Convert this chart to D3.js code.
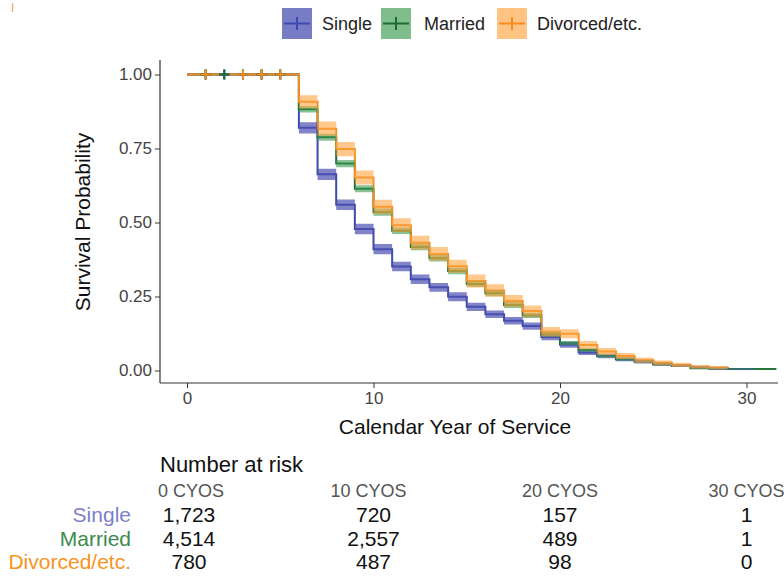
<!DOCTYPE html>
<html><head><meta charset="utf-8">
<script src="https://cdn.jsdelivr.net/npm/d3@7"></script>
<style>body{margin:0;background:#fff}svg{display:block;font-family:"Liberation Sans",Arial,sans-serif}</style>
</head><body><svg id="c" width="784" height="576"></svg>
<script>
const groups = ["Single", "Married", "Divorced/etc."];
const times = [0,6,7,8,9,10,11,12,13,14,15,16,17,18,19,20,21,22,23,24,25,26,27,28,29];
const survSingle   = [1,0.820,0.663,0.560,0.478,0.410,0.351,0.308,0.281,0.249,0.215,0.190,0.168,0.150,0.113,0.087,0.061,0.049,0.038,0.030,0.021,0.016,0.010,0.007,0.005];
const survMarried  = [1,0.883,0.788,0.699,0.614,0.535,0.472,0.417,0.379,0.336,0.292,0.261,0.221,0.186,0.122,0.093,0.069,0.049,0.038,0.030,0.021,0.016,0.008,0.007,0.005];
const survDivorced = [1,0.908,0.817,0.748,0.652,0.553,0.491,0.432,0.394,0.352,0.302,0.270,0.235,0.201,0.131,0.124,0.086,0.064,0.049,0.035,0.026,0.019,0.013,0.010];
const ciSingle   = [0,.019,.019,.018,.018,.017,.016,.016,.015,.015,.014,.013,.013,.012,.011,.010,.009,.008,.007,.006,.005,.004,.004,.003,.003];
const ciMarried  = [0,.011,.012,.012,.012,.012,.011,.011,.011,.011,.010,.010,.010,.009,.008,.007,.006,.005,.005,.004,.004,.003,.003,.002,.002];
const ciDivorced = [0,.022,.024,.024,.024,.024,.023,.023,.023,.022,.022,.021,.020,.019,.016,.015,.014,.012,.010,.009,.008,.007,.006,.005];
const endTimes = [30.4, 31.6, 29];
const censorTimes = [[1,2,3,4,5],[1,2,3,4,5],[1,3,4,5]];
const riskTimes = [0,10,20,30];
const riskLabels = ["0 CYOS","10 CYOS","20 CYOS","30 CYOS"];
const riskSingle = ["1,723","720","157","1"];
const riskMarried = ["4,514","2,557","489","1"];
const riskDivorced = ["780","487","98","0"];
const yTicks = [0,0.25,0.5,0.75,1];
const xTicks = [0,10,20,30];

const lineColors = ["#3B4AAE","#1C6B34","#F78D1E"];
const bandColors = ["#4B50B0","#3A9A50","#FFA340"];
const bandOpac = [0.7,0.6,0.6];
const labelColors = ["#7D7FC9","#3A8A4E","#F7941D"];

const svg = d3.select("#c");
const x = d3.scaleLinear().domain([0,30]).range([187,746.5]);
const y = d3.scaleLinear().domain([0,1]).range([370.5,74.5]);

const survs=[survSingle,survMarried,survDivorced];
const cis=[ciSingle,ciMarried,ciDivorced];
const series = groups.map((g,i)=>{
  const pts = survs[i].map((s,j)=>({t:times[j],s:s,h:cis[i][j]}));
  const last = pts[pts.length-1];
  pts.push({t:endTimes[i],s:last.s,h:last.h});
  return pts;
});

const plotL=160, plotR=778, plotT=60, plotB=383;
svg.append("line").attr("x1",plotL).attr("x2",plotL).attr("y1",plotT).attr("y2",plotB).attr("stroke","#333").attr("stroke-width",1.2);
svg.append("line").attr("x1",plotL).attr("x2",plotR).attr("y1",plotB).attr("y2",plotB).attr("stroke","#333").attr("stroke-width",1.2);

const yAxis = d3.axisLeft(y).tickValues(yTicks).tickFormat(d3.format(".2f")).tickSize(5).tickPadding(3);
const ga = svg.append("g").attr("transform",`translate(${plotL},0)`).call(yAxis);
ga.select(".domain").remove();
ga.selectAll("line").attr("stroke","#333");
ga.selectAll("text").attr("font-size",17).attr("fill","#444").attr("font-family","Liberation Sans, Arial, sans-serif");

const xAxis = d3.axisBottom(x).tickValues(xTicks).tickSize(5).tickPadding(4);
const gx = svg.append("g").attr("transform",`translate(0,${plotB})`).call(xAxis);
gx.select(".domain").remove();
gx.selectAll("line").attr("stroke","#333");
gx.selectAll("text").attr("font-size",17).attr("fill","#444").attr("font-family","Liberation Sans, Arial, sans-serif");

svg.append("text").attr("x",455).attr("y",434).attr("text-anchor","middle").attr("font-size",21).attr("fill","#111").text("Calendar Year of Service");
svg.append("text").attr("transform","translate(90,222) rotate(-90)").attr("text-anchor","middle").attr("font-size",21).attr("fill","#111").text("Survival Probability");

const line = d3.line().x(d=>x(d.t)).y(d=>y(d.s)).curve(d3.curveStepAfter);
series.forEach((pts,i)=>{
  svg.append("path").attr("d",line(pts)).attr("fill","none").attr("stroke",lineColors[i]).attr("stroke-width",2);
});
const area = d3.area().x(d=>x(d.t)).y0(d=>y(Math.max(0,d.s-d.h))).y1(d=>y(Math.min(1,d.s+d.h))).curve(d3.curveStepAfter);
series.forEach((pts,i)=>{
  svg.append("path").attr("d",area(pts)).attr("fill",bandColors[i]).attr("fill-opacity",bandOpac[i]).attr("stroke","none");
});
censorTimes.forEach((ts,i)=>{
  ts.forEach(t=>{
    const cx=x(t), cy=y(1);
    svg.append("line").attr("x1",cx-5).attr("x2",cx+5).attr("y1",cy).attr("y2",cy).attr("stroke",lineColors[i]).attr("stroke-width",2);
    svg.append("line").attr("x1",cx).attr("x2",cx).attr("y1",cy-5).attr("y2",cy+5).attr("stroke",lineColors[i]).attr("stroke-width",2);
  });
});

const legX=[282,381,497], legTextX=[322,424,537];
groups.forEach((g,i)=>{
  const lg=svg.append("g");
  lg.append("rect").attr("x",legX[i]).attr("y",8).attr("width",30).attr("height",31).attr("fill",bandColors[i]).attr("fill-opacity",bandOpac[i]+0.05);
  lg.append("line").attr("x1",legX[i]+2).attr("x2",legX[i]+28).attr("y1",23.5).attr("y2",23.5).attr("stroke",lineColors[i]).attr("stroke-width",2);
  lg.append("line").attr("x1",legX[i]+15).attr("x2",legX[i]+15).attr("y1",17).attr("y2",30).attr("stroke",lineColors[i]).attr("stroke-width",2);
  lg.append("text").attr("x",legTextX[i]).attr("y",30).attr("font-size",18).attr("fill","#222").text(g);
});

svg.append("line").attr("x1",12.5).attr("x2",12.5).attr("y1",3).attr("y2",12).attr("stroke","#F0B070").attr("stroke-width",1.5);

svg.append("text").attr("x",160).attr("y",472).attr("font-size",22).attr("fill","#111").text("Number at risk");
riskTimes.forEach((t,j)=>{
  svg.append("text").attr("x",x(t)+ (j===0?4:(j===1?-5:0))).attr("y",497).attr("text-anchor","middle").attr("font-size",18)
    .attr("font-family","Liberation Sans Narrow, Arial Narrow, sans-serif").attr("fill","#555").text(riskLabels[j]);
});
const risks=[riskSingle,riskMarried,riskDivorced];
const rowY=[522,546,569];
groups.forEach((g,i)=>{
  svg.append("text").attr("x",131).attr("y",rowY[i]).attr("text-anchor","end").attr("font-size",21).attr("fill",labelColors[i]).text(g);
  risks[i].forEach((v,j)=>{
    svg.append("text").attr("x",x(riskTimes[j])+(j===0?2:0)).attr("y",rowY[i]).attr("text-anchor","middle").attr("font-size",21).attr("fill","#111").text(v);
  });
});
</script></body></html>
